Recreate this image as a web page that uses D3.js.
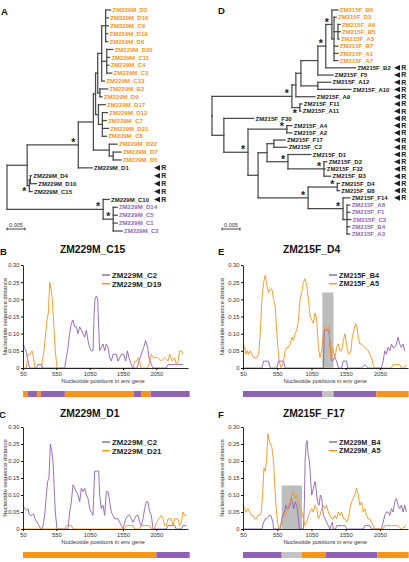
<!DOCTYPE html>
<html><head><meta charset="utf-8">
<script src="https://cdn.jsdelivr.net/npm/d3@7"></script>
<style>body{margin:0;background:#fff}svg{display:block}</style>
</head><body><svg id="c" width="409" height="562"></svg>
<script>
// ---------------- DATA ----------------
// Phylogenies (Newick, branch lengths in substitutions/site; "*" = supported node, "*b" = star drawn below)
const treeA = "((((((((ZM229M_D3:.0014,ZM229M_D16:.0008,ZM229M_C9:.0008,ZM229M_D19:.0006,ZM229M_D6:.0006):.0011,(ZM229M_D20:.0017,ZM229M_C11:.0008,ZM229M_C4:.0006,ZM229M_C3:.0014):.0014,ZM229M_C13:.0008):.0011,(ZM229M_B2:.0022,ZM229M_D9:.0006):.0006):.0006,(ZM229M_D17:.0019,(ZM229M_D12:.0014,ZM229M_C7:.0011,ZM229M_D21:.0017,ZM229M_C8:.0011):.0011):.0008):.0006,(ZM229M_D22:.0022,(ZM229M_D7:.0022,ZM229M_D5:.0022):.0011):.0044):.0042,ZM229M_D1:.0039)*:.0142,((ZM229M_D4:.0003,ZM229M_D10:.0017):.0003,ZM229M_C15:.0008)*b:.0006):.0056,(ZM229M_C10:.0017,(ZM229M_D14:.0011,ZM229M_C5:.0011,ZM229M_C1:.0011,ZM229M_C2:.0025)*:.0028)*:.0267);";
const treeD = "((((((((ZM215F_B6:.0017,(ZM215F_D3:.0006,(ZM215F_A6:.0006,ZM215F_B5:.0006,ZM215F_A5:.0003):.0011,ZM215F_B7:.0011,ZM215F_A1:.0011,ZM215F_A7:.0011):.0006)*:.0017,ZM215F_B2:.0083)*:.0022,ZM215F_F5:.0042):.0047,(ZM215F_A12:.0036,ZM215F_A10:.0092):.0047):.0014,ZM215F_A9:.0053):.0011,(ZM215F_F11:.0006,ZM215F_A11:.0003)*b:.0022)*:.0222,(ZM215F_F30:.0083,((ZM215F_A4:.0014,ZM215F_A2:.0014)*:.0108,(((ZM215F_F17:.0031,ZM215F_C2:.0036):.0019,(ZM215F_D1:.0064,(ZM215F_D2:.0008,ZM215F_F32:.0003,ZM215F_B3:.0019)*:.01)*:.0058):.0025,((ZM215F_D4:.0006,ZM215F_B8:.0006)*:.0081,(ZM215F_F14:.0019,(ZM215F_A8:.0008,ZM215F_F1:.0008,ZM215F_C3:.0011,ZM215F_B4:.0008,ZM215F_A3:.0008):.0011)*:.0097)*:.0139):.0028)*:.0067):.0033);";

const orangeA = ["ZM229M_D3","ZM229M_D16","ZM229M_C9","ZM229M_D19","ZM229M_D6","ZM229M_D20","ZM229M_C11","ZM229M_C4","ZM229M_C3","ZM229M_C13","ZM229M_B2","ZM229M_D9","ZM229M_D17","ZM229M_D12","ZM229M_C7","ZM229M_D21","ZM229M_C8","ZM229M_D22","ZM229M_D7","ZM229M_D5"];
const purpleA = ["ZM229M_D14","ZM229M_C5","ZM229M_C1","ZM229M_C2"];
const recombA = ["ZM229M_D1","ZM229M_D4","ZM229M_D10","ZM229M_C15","ZM229M_C10"];
const orangeD = ["ZM215F_B6","ZM215F_D3","ZM215F_A6","ZM215F_B5","ZM215F_A5","ZM215F_B7","ZM215F_A1","ZM215F_A7"];
const purpleD = ["ZM215F_A8","ZM215F_F1","ZM215F_C3","ZM215F_B4","ZM215F_A3"];
const recombD = ["ZM215F_B2","ZM215F_F5","ZM215F_A12","ZM215F_A10","ZM215F_A9","ZM215F_F11","ZM215F_A11","ZM215F_F30","ZM215F_A4","ZM215F_A2","ZM215F_F17","ZM215F_C2","ZM215F_D1","ZM215F_D2","ZM215F_F32","ZM215F_B3","ZM215F_D4","ZM215F_B8","ZM215F_F14"];
const scaleBarValue = 0.005;

// Distance profiles: [nucleotide position, distance]
const yTicks = [0, 0.05, 0.10, 0.15, 0.20, 0.25, 0.30];
const xTicks = [50, 550, 1050, 1550, 2050];

const bPurple = [[50,.07],[75,.06],[100,.045],[125,.02],[150,0],[250,0],[275,.01],[325,.01],[350,0],[675,0],[700,.03],[725,.06],[750,.10],[775,.13],[800,.14],[825,.12],[850,.12],[875,.10],[900,.12],[925,.11],[950,.10],[975,.09],[1000,.11],[1025,.08],[1050,.06],[1075,.05],[1100,.05],[1115,.15],[1130,.20],[1150,.21],[1170,.20],[1185,.12],[1200,.05],[1225,.06],[1250,.07],[1275,.05],[1300,.07],[1325,.06],[1350,.03],[1375,.02],[1400,.04],[1450,.04],[1475,.02],[1500,.03],[1525,.04],[1560,.04],[1590,.02],[1615,.05],[1640,.03],[1675,.01],[1700,0],[1760,0],[1790,.02],[1825,.04],[1860,.06],[1890,.08],[1920,.06],[1940,.03],[1975,.01],[2000,0],[2200,0],[2225,.01],[2450,.01]];
const bOrange = [[50,0],[100,0],[125,.04],[160,.04],[185,.05],[200,.04],[215,.02],[230,0],[325,0],[340,.02],[365,.05],[390,.10],[410,.14],[430,.16],[450,.25],[470,.23],[490,.20],[510,.13],[535,.05],[560,0],[1700,0],[1725,.02],[1760,.02],[1780,.03],[1800,.02],[1820,0],[1925,0],[1950,.02],[1975,.04],[2010,.03],[2075,.03],[2125,.02],[2175,.03],[2225,.02],[2250,.04],[2290,.02],[2325,.03],[2350,.01],[2375,.02],[2400,.05],[2425,.05],[2450,.04]];
const cPurple = [[50,.07],[75,.06],[100,.055],[125,.06],[140,.045],[160,.04],[185,.04],[210,.045],[230,.03],[260,.02],[290,.01],[320,0],[340,0],[360,.02],[380,.05],[400,.10],[420,.14],[440,.15],[460,.25],[480,.23],[500,.20],[515,.13],[535,.05],[560,0],[725,0],[750,.05],[775,.08],[800,.13],[825,.12],[850,.11],[875,.10],[900,.08],[925,.12],[950,.11],[975,.12],[1000,.10],[1025,.09],[1050,.06],[1075,.05],[1100,.04],[1125,.17],[1150,.17],[1185,.17],[1200,.10],[1225,.06],[1250,.07],[1275,.04],[1300,.11],[1325,.11],[1350,.08],[1375,.05],[1400,.04],[1425,.03],[1450,.03],[1475,.03],[1500,.02],[1525,.01],[1550,0],[1590,.03],[1625,.04],[1650,.04],[1675,.03],[1700,.02],[1725,.03],[1750,.04],[1775,.04],[1800,.02],[1825,.01],[1850,.03],[1875,.06],[1900,.08],[1925,.08],[1950,.05],[1975,.04],[2000,0],[2200,0],[2225,.01],[2325,.01],[2350,0],[2425,0],[2450,.01],[2500,.01]];
const cOrange = [[50,0],[675,0],[700,.01],[775,.01],[800,0],[1575,0],[1600,.01],[1700,.01],[1725,0],[1800,0],[1825,.01],[1950,.01],[1975,0],[2025,0],[2050,.02],[2090,.03],[2125,.04],[2150,.03],[2175,.01],[2200,.01],[2225,.03],[2275,.03],[2300,.01],[2325,.03],[2375,.03],[2400,.01],[2425,.02],[2450,.05],[2475,.04],[2500,.04]];
const ePurple = [[50,0],[326,0],[351,.02],[423,.02],[448,0],[545,0],[569,.02],[642,.02],[666,0],[1224,0],[1238,.11],[1306,.11],[1335,.03],[1355,.02],[1393,.03],[1418,.02],[1442,0],[1490,0],[1515,.02],[1563,.02],[1578,0],[1781,0],[1830,.01],[1878,0],[2072,0],[2097,.02],[2121,.05],[2145,.04],[2169,.06],[2194,.05],[2218,.07],[2242,.06],[2266,.06],[2291,.07],[2315,.09],[2339,.07],[2363,.06],[2388,.07],[2412,.05]];
const eOrange = [[50,.07],[74,.06],[94,.04],[113,.05],[132,.04],[157,.05],[181,.04],[205,.03],[254,.03],[278,.04],[302,.10],[326,.20],[351,.25],[375,.27],[399,.24],[423,.22],[448,.23],[472,.23],[496,.20],[520,.18],[545,.10],[559,.06],[579,.02],[608,0],[642,.02],[666,.05],[690,.06],[714,.06],[739,.07],[763,.09],[787,.08],[811,.10],[836,.11],[860,.14],[884,.20],[908,.22],[933,.25],[957,.26],[981,.24],[1005,.20],[1030,.15],[1054,.14],[1078,.13],[1102,.16],[1127,.14],[1151,.06],[1175,.03],[1199,.05],[1224,.10],[1248,.12],[1272,.11],[1306,.12],[1335,.03],[1355,.06],[1369,.05],[1393,.03],[1418,.06],[1442,.07],[1466,.05],[1490,.05],[1515,.08],[1539,.10],[1563,.07],[1578,.05],[1597,.04],[1626,.05],[1646,.09],[1670,.11],[1694,.13],[1714,.12],[1733,.09],[1757,.07],[1781,.07],[1830,.06],[1878,.05],[1927,.03],[1951,.01],[1975,0],[2218,0],[2242,.01],[2339,.01],[2363,0],[2412,0],[2436,.01]];
const fPurple = [[50,0],[326,0],[351,.02],[375,.03],[399,.03],[433,.04],[457,.04],[472,.03],[487,.02],[496,0],[593,0],[608,.02],[632,.04],[656,.05],[676,.07],[695,.06],[714,.06],[739,.07],[753,.09],[773,.08],[792,.06],[811,.08],[836,.07],[860,.03],[874,0],[933,0],[947,.08],[957,.20],[972,.25],[986,.26],[1001,.22],[1020,.20],[1039,.14],[1054,.10],[1078,.12],[1102,.14],[1117,.12],[1136,.08],[1161,.07],[1180,.10],[1199,.09],[1224,.04],[1248,.03],[1272,.02],[1296,.01],[1321,0],[1335,.01],[1355,.02],[1369,0],[1403,0],[1418,.01],[1539,.01],[1563,0],[1806,0],[1830,.01],[1903,.01],[1927,0],[2072,0],[2097,.02],[2121,.04],[2145,.05],[2169,.05],[2194,.04],[2218,.06],[2242,.05],[2266,.08],[2291,.09],[2315,.07],[2339,.06],[2363,.07],[2388,.05],[2412,.07],[2436,.05]];
const fOrange = [[50,.07],[74,.06],[94,.05],[123,.06],[147,.05],[171,.04],[196,.04],[220,.03],[244,.03],[268,.04],[293,.04],[317,.05],[336,.10],[356,.18],[375,.17],[394,.20],[414,.28],[433,.26],[453,.25],[472,.24],[496,.20],[516,.12],[535,.06],[554,.02],[574,0],[608,.01],[627,.03],[647,.04],[666,.04],[690,.05],[714,.07],[739,.08],[763,.10],[787,.11],[811,.09],[836,.10],[860,.08],[884,.06],[908,.05],[933,.03],[957,.01],[981,.02],[1005,.04],[1030,.05],[1054,.06],[1078,.05],[1102,.07],[1127,.06],[1151,.03],[1175,.04],[1199,.06],[1224,.07],[1248,.06],[1272,.07],[1296,.05],[1321,.04],[1345,.03],[1369,.03],[1393,.04],[1418,.03],[1442,.05],[1466,.04],[1490,.05],[1515,.03],[1539,.03],[1563,.02],[1587,.03],[1612,.06],[1636,.08],[1660,.09],[1684,.10],[1709,.12],[1733,.10],[1757,.07],[1781,.08],[1806,.05],[1830,.06],[1854,.04],[1878,.03],[1903,.03],[1927,.02],[1951,.01],[1975,0],[2097,0],[2121,.01],[2315,.01],[2363,0],[2436,.01]];

// Closest-parent bars: [start, end, parent]  (o = orange, p = purple, g = ambiguous)
const barB = [[50,125,"o"],[125,259,"p"],[259,319,"o"],[319,678,"p"],[678,1709,"o"],[1709,1829,"p"],[1829,1963,"o"],[1963,2550,"p"]];
const barC = [[50,2050,"o"],[2050,2550,"p"]];
const barE = [[50,1209,"p"],[1209,1372,"g"],[1372,1996,"p"],[1996,2470,"o"]];
const barF = [[50,615,"p"],[615,912,"g"],[912,1254,"o"],[1254,2011,"p"],[2011,2470,"o"]];
// Uncertain breakpoint windows: [start, end, height]
const shadeE = [1209, 1372, 0.22];
const shadeF = [615, 912, 0.128];

// ---------------- DRAWING ----------------
const FONT = "'Liberation Sans', Arial, Helvetica, sans-serif";
const ORANGE = "#F7941D", PURPLE = "#8F62B2", GRAY = "#C3C3C3";
const colorOf = {o: ORANGE, p: PURPLE, g: GRAY};
const svg = d3.select("#c").style("font-family", FONT);

function parseNewick(str) {
  const s = str.replace(/\s+/g, "").replace(/;$/, "");
  let i = 0;
  function node() {
    const n = {children: [], length: 0, name: ""};
    if (s[i] === "(") {
      i++;
      while (true) { n.children.push(node()); if (s[i] === ",") { i++; continue; } break; }
      i++; // ')'
    }
    let name = "";
    while (i < s.length && !",():".includes(s[i])) name += s[i++];
    n.name = name;
    if (s[i] === ":") { i++; let num = ""; while (i < s.length && !",()".includes(s[i])) num += s[i++]; n.length = +num; }
    return n;
  }
  return node();
}

function drawTree(g, newick, o) {
  const root = parseNewick(newick);
  const leaves = [];
  (function collect(n) { if (!n.children.length) leaves.push(n); n.children.forEach(collect); })(root);
  const xs = d3.scaleLinear().domain([0, scaleBarValue]).range([0, 18]);
  const ys = d3.scaleLinear().domain([0, leaves.length - 1]).range([o.yTop, o.yBottom]);
  const nodes = [];
  let li = 0;
  (function lay(n, depth, parent) {
    n.parent = parent; n.x = o.x0 + xs(depth);
    if (!n.children.length) n.y = ys(li++);
    else { n.children.forEach(c => lay(c, depth + c.length, n)); n.y = (n.children[0].y + n.children[n.children.length - 1].y) / 2; }
    nodes.push(n);
  })(root, 0, null);

  const lg = g.append("g").attr("stroke", "#4a4a4a").attr("stroke-width", 1.25).attr("fill", "none").attr("stroke-linecap", "square");
  nodes.forEach(n => {
    if (n.parent) lg.append("line").attr("x1", n.parent.x).attr("x2", n.x).attr("y1", n.y).attr("y2", n.y);
    if (n.children.length) lg.append("line").attr("x1", n.x).attr("x2", n.x)
      .attr("y1", n.children[0].y).attr("y2", n.children[n.children.length - 1].y);
  });
  nodes.filter(n => n.children.length && n.name.startsWith("*")).forEach(n => {
    const below = n.name === "*b";
    g.append("text").attr("x", n.x - 5).attr("y", below ? n.y + 9.6 : n.y + 1.2)
      .attr("text-anchor", "middle").attr("font-size", 10.5).attr("font-weight", "bold").attr("fill", "#222").text("*");
  });
  leaves.forEach(n => {
    const col = o.orange.includes(n.name) ? ORANGE : o.purple.includes(n.name) ? "#9068B6" : "#1a1a1a";
    g.append("text").attr("x", n.x + 1.8).attr("y", n.y).attr("dy", "0.36em")
      .attr("font-size", 6).attr("font-weight", "bold").attr("fill", col).text(n.name);
    if (o.recomb.includes(n.name)) {
      g.append("path").attr("d", `M${o.rx},${n.y} L${o.rx + 6},${n.y - 2.8} L${o.rx + 6},${n.y + 2.8} Z`).attr("fill", "#222");
      g.append("text").attr("x", o.rx + 7.2).attr("y", n.y).attr("dy", "0.35em")
        .attr("font-size", 7).attr("font-weight", "bold").attr("fill", "#222").text("R");
    }
  });
  // scale bar
  const sb = g.append("g").attr("stroke", "#333").attr("stroke-width", 0.9);
  sb.append("line").attr("x1", o.sbx).attr("x2", o.sbx + xs(scaleBarValue)).attr("y1", o.sby).attr("y2", o.sby);
  sb.append("line").attr("x1", o.sbx).attr("x2", o.sbx).attr("y1", o.sby - 1.5).attr("y2", o.sby + 1.5);
  sb.append("line").attr("x1", o.sbx + xs(scaleBarValue)).attr("x2", o.sbx + xs(scaleBarValue)).attr("y1", o.sby - 1.5).attr("y2", o.sby + 1.5);
  g.append("text").attr("x", o.sbx + xs(scaleBarValue) / 2).attr("y", o.sby - 2.5).attr("text-anchor", "middle")
    .attr("font-size", 5.5).attr("fill", "#333").text(d3.format(".3f")(scaleBarValue));
}

function drawChart(g, o) {
  const x = d3.scaleLinear().domain(o.xDomain).range([o.left, o.right]);
  const y = d3.scaleLinear().domain([0, 0.30]).range([o.bottom, o.top]);
  if (o.shade) g.append("rect").attr("x", x(o.shade[0])).attr("width", x(o.shade[1]) - x(o.shade[0]))
    .attr("y", y(o.shade[2])).attr("height", y(0) - y(o.shade[2])).attr("fill", "#BDBDBD");
  const line = d3.line().x(d => x(d[0])).y(d => y(d[1]));
  g.append("path").datum(o.purple).attr("d", line).attr("fill", "none").attr("stroke", PURPLE).attr("stroke-width", 0.9);
  g.append("path").datum(o.orange).attr("d", line).attr("fill", "none").attr("stroke", ORANGE).attr("stroke-width", 0.9);

  const ya = g.append("g").attr("transform", `translate(${o.left},0)`)
    .call(d3.axisLeft(y).tickValues(yTicks).tickSize(2).tickSizeOuter(0).tickPadding(1.5)
      .tickFormat(d => d === 0 ? "0" : d3.format(".2f")(d)));
  const xa = g.append("g").attr("transform", `translate(0,${o.bottom})`)
    .call(d3.axisBottom(x).tickValues(xTicks).tickSize(2).tickSizeOuter(0).tickPadding(1.5).tickFormat(d3.format("d")));
  [ya, xa].forEach(a => { a.selectAll("text").attr("font-size", 5.8).attr("fill", "#333").style("font-family", FONT);
    a.select(".domain").attr("stroke", "#111").attr("stroke-width", 0.9); a.selectAll(".tick line").attr("stroke", "#111"); });

  g.append("text").attr("transform", `translate(${o.ytitleX},${(o.top + o.bottom) / 2}) rotate(-90)`)
    .attr("text-anchor", "middle").attr("font-size", 5.8).attr("fill", "#333").text("Nucleotide sequence distance");
  g.append("text").attr("x", x(1250)).attr("y", o.bottom + 15).attr("text-anchor", "middle")
    .attr("font-size", 5.8).attr("fill", "#333").text("Nucleotide positions in env gene");

  // legend
  o.names.forEach((nm, i) => {
    const ly = o.legY + i * 8.7;
    g.append("line").attr("x1", o.legX).attr("x2", o.legX + 8).attr("y1", ly).attr("y2", ly)
      .attr("stroke", i === 0 ? PURPLE : ORANGE).attr("stroke-width", 1.4);
    g.append("text").attr("x", o.legX + 10).attr("y", ly).attr("dy", "0.36em").attr("font-size", o.legFont)
      .attr("font-weight", "bold").attr("fill", "#222").text(nm);
  });
  // bar
  g.selectAll("rect.bar").data(o.bar).join("rect").attr("class", "bar")
    .attr("x", d => x(d[0])).attr("width", d => x(d[1]) - x(d[0]))
    .attr("y", o.barY).attr("height", 6).attr("fill", d => colorOf[d[2]]);
  // title
  g.append("text").attr("x", o.titleX).attr("y", o.titleY).attr("font-size", 10.3).attr("font-weight", "bold")
    .attr("fill", "#111").text(o.title);
}

function panelLetter(t, x, y) {
  svg.append("text").attr("x", x).attr("y", y).attr("font-size", 9.5).attr("font-weight", "bold").attr("fill", "#111").text(t);
}

panelLetter("A", 1, 15); panelLetter("D", 218, 14);
panelLetter("B", 0, 255); panelLetter("E", 218, 255);
panelLetter("C", -1, 418); panelLetter("F", 218, 418);

drawTree(svg.append("g"), treeA, {x0: 7, yTop: 10, yBottom: 231, orange: orangeA, purple: purpleA, recomb: recombA, rx: 154, sbx: 7, sby: 229});
drawTree(svg.append("g"), treeD, {x0: 212, yTop: 10, yBottom: 234, orange: orangeD, purple: purpleD, recomb: recombD, rx: 394, sbx: 222, sby: 229});

const L = {xDomain: [50, 2525], left: 23, right: 188, ytitleX: 7, legX: 102, legFont: 7.8};
const R = {xDomain: [50, 2460], left: 243, right: 408, ytitleX: 224, legX: 329, legFont: 7.2};

drawChart(svg.append("g"), {...L, top: 265, bottom: 368, purple: bPurple, orange: bOrange, names: ["ZM229M_C2", "ZM229M_D19"],
  legY: 275, bar: barB, barY: 391, title: "ZM229M_C15", titleX: 60, titleY: 253});
drawChart(svg.append("g"), {...L, top: 427, bottom: 529, purple: cPurple, orange: cOrange, names: ["ZM229M_C2", "ZM229M_D21"],
  legY: 442, bar: barC, barY: 552, title: "ZM229M_D1", titleX: 60, titleY: 417});
drawChart(svg.append("g"), {...R, top: 265, bottom: 368, purple: ePurple, orange: eOrange, names: ["ZM215F_B4", "ZM215F_A5"],
  legY: 275, bar: barE, barY: 391, shade: shadeE, title: "ZM215F_D4", titleX: 283, titleY: 253});
drawChart(svg.append("g"), {...R, top: 427, bottom: 529, purple: fPurple, orange: fOrange, names: ["ZM229M_B4", "ZM229M_A5"],
  legY: 442, bar: barF, barY: 552, shade: shadeF, title: "ZM215F_F17", titleX: 283, titleY: 417});
</script></body></html>
